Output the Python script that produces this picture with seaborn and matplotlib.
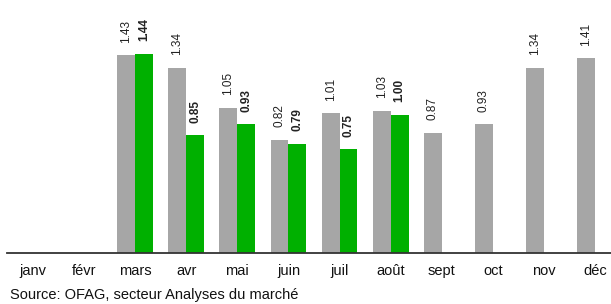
import pandas as pd
import numpy as np
import matplotlib
matplotlib.use('Agg')
import matplotlib.pyplot as plt
import seaborn as sns

# données (prix mensuels, deux années)
mois = ['janv', 'févr', 'mars', 'avr', 'mai', 'juin', 'juil', 'août', 'sept', 'oct', 'nov', 'déc']
annee_prec = [np.nan, np.nan, 1.43, 1.34, 1.05, 0.82, 1.01, 1.03, 0.87, 0.93, 1.34, 1.41]
annee_cour = [np.nan, np.nan, 1.44, 0.85, 0.93, 0.79, 0.75, 1.00, np.nan, np.nan, np.nan, np.nan]
series = ['année précédente', 'année en cours']
couleurs = ['#A6A6A6', '#00B000']

df = pd.DataFrame({
    'mois': mois * 2,
    'prix': annee_prec + annee_cour,
    'serie': [series[0]] * 12 + [series[1]] * 12,
})

sns.set_style('white')
plt.rcParams['font.family'] = ['Liberation Sans', 'DejaVu Sans']

fig = plt.figure(figsize=(6.11, 3.04), dpi=100)
# l'axe déborde un peu à droite, comme dans l'original
ax = fig.add_axes([7.5 / 611, 51 / 304, 613 / 611, 253 / 304])

sns.barplot(data=df, x='mois', y='prix', hue='serie', order=mois, hue_order=series,
            palette=couleurs, width=0.7, gap=0, saturation=1, edgecolor='none',
            legend=False, ax=ax)

# étiquettes de valeurs verticales
for cont, poids in zip(ax.containers, ['normal', 'bold']):
    ax.bar_label(cont, fmt='%.2f', rotation=90, padding=9, fontsize=8.5,
                 fontweight=poids, color='#222222')

ax.set_xlim(-0.5, 11.5)
ax.set_ylim(0, 1.83)
ax.set_xlabel('')
ax.set_ylabel('')
ax.set_yticks([])
ax.tick_params(axis='x', length=0, pad=8, labelsize=10.5, colors='#111111')
for s in ['top', 'right', 'left']:
    ax.spines[s].set_visible(False)
ax.spines['bottom'].set_color('#333333')
ax.spines['bottom'].set_linewidth(1.3)

fig.text(10 / 611, 9 / 304, 'Source: OFAG, secteur Analyses du marché',
         fontsize=10.5, color='#111111', ha='left', va='center')

fig.savefig('out.png', dpi=100)
